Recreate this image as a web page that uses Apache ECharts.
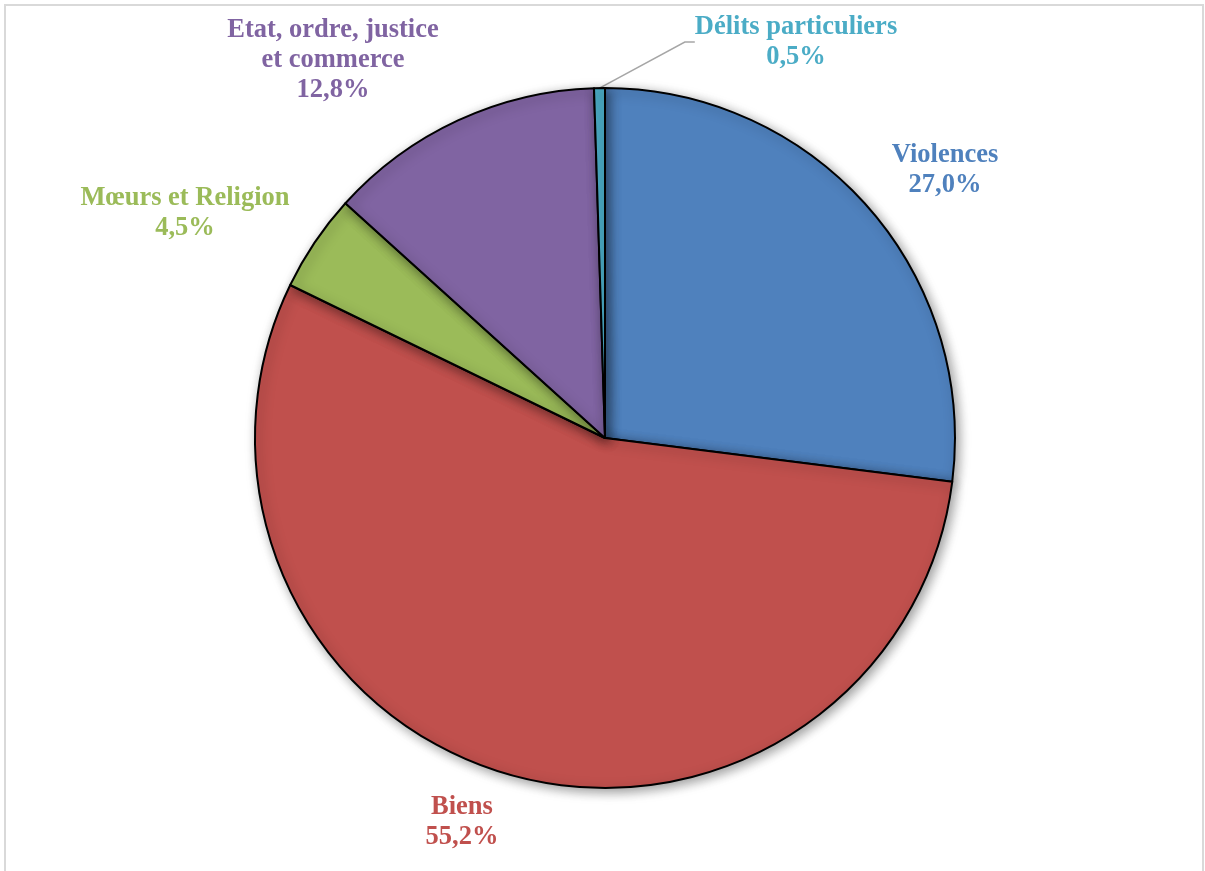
<!DOCTYPE html>
<html><head><meta charset="utf-8">
<style>html,body{margin:0;padding:0;background:#fff}#c{width:1205px;height:871px}</style>
<script src="https://cdn.jsdelivr.net/npm/echarts@6/dist/echarts.min.js"></script>
</head><body><div id="c"></div>
<script>
const categories = ['Violences', 'Biens', 'Mœurs et Religion', 'Etat, ordre, justice\net commerce', 'Délits particuliers'];
const values = [27.0, 55.2, 4.5, 12.8, 0.5];
const colors = ['#4F81BD', '#C0504D', '#9BBB59', '#8064A2', '#4BACC6'];
const labelPos = [[945, 170], [462, 822], [185, 213], [333, 60], [796, 42]];

const chart = echarts.init(document.getElementById('c'));
chart.setOption({
  animation: false,
  graphic: [{
    type: 'rect', shape: {x: 5, y: 5, width: 1198, height: 900},
    style: {fill: 'none', stroke: '#d9d9d9', lineWidth: 2}, silent: true, z: -10
  }],
  series: [{
    type: 'pie',
    center: [605, 438],
    radius: 350,
    startAngle: 90,
    clockwise: true,
    data: categories.map((n, i) => ({
      name: n, value: values[i],
      itemStyle: {color: colors[i]},
      label: {color: colors[i]},
      labelLine: {show: i === 4}
    })),
    itemStyle: {borderColor: '#000', borderWidth: 2, shadowBlur: 12, shadowColor: 'rgba(0,0,0,0.4)', shadowOffsetX: 3, shadowOffsetY: 3},
    label: {
      show: true,
      fontFamily: 'Liberation Serif',
      fontWeight: 'bold',
      fontSize: 26.5,
      lineHeight: 30,
      align: 'center',
      formatter: p => p.name + '\n' + values[p.dataIndex].toFixed(1).replace('.', ',') + '%'
    },
    labelLine: {lineStyle: {color: '#a6a6a6', width: 1.5}, length: 10, length2: 10},
    labelLayout: p => ({
      x: labelPos[p.dataIndex][0],
      y: labelPos[p.dataIndex][1],
      align: 'center',
      verticalAlign: 'middle'
    })
  }]
});
</script></body></html>
